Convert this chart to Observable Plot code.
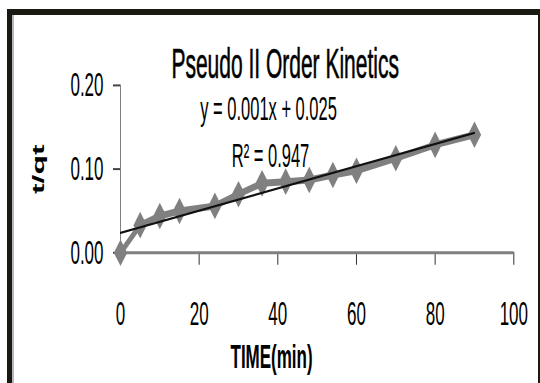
<!DOCTYPE html>
<html>
<head>
<meta charset="utf-8">
<script src="https://cdn.jsdelivr.net/npm/d3@7"></script>
<script src="https://cdn.jsdelivr.net/npm/@observablehq/plot@0.6"></script>
<style>
  html, body { margin: 0; padding: 0; background: #fff; }
  #wrap { position: relative; width: 540px; height: 383px; overflow: hidden; background: #fff; }
  #chart svg { display: block; transform: scaleY(2); transform-origin: 0 0; }
  #frame { position: absolute; left: 7px; top: 9px; right: 0; bottom: -10px;
           border-top: 6px solid #1b1a12; border-left: 5px solid #1b1a12; border-right: 2px solid #1b1a12; }
  #frame::after { content: ""; position: absolute; left: 0; top: 0; bottom: 0; width: 2px; background: #b8b8b8; }
</style>
</head>
<body>
<div id="wrap">
  <div id="chart"></div>
  <div id="frame"></div>
</div>
<script>
// Data
const times = [0, 5, 10, 15, 24, 30, 36, 42, 48, 54, 60, 70, 80, 90];
const tOverQt = [0.000, 0.033, 0.044, 0.050, 0.056, 0.070, 0.083, 0.085, 0.087, 0.093, 0.098, 0.113, 0.129, 0.141];
const xTicks = [0, 20, 40, 60, 80, 100];
const yTicks = [0.00, 0.10, 0.20];
const titleText = ["Pseudo II Order Kinetics"];
const equationText = ["y = 0.001x + 0.025"];
const r2Text = ["R\u00b2 = 0.947"];
const xLabel = ["TIME(min)"];
const yLabel = ["t/qt"];

const data = times.map((t, i) => ({t, v: tOverQt[i]}));

const font = "'Liberation Sans', Arial, sans-serif";
const gray = "#808080";

const chart = Plot.plot({
  width: 540,
  height: 192,
  marginLeft: 120,
  marginRight: 26.7,
  marginTop: 42.2,
  marginBottom: 66.1,
  x: {domain: [0, 100]},
  y: {domain: [0, 0.2]},
  style: {fontFamily: font, background: "transparent", color: "#000", overflow: "visible"},
  marks: [
    Plot.axisY({ticks: yTicks, tickFormat: d => d.toFixed(2), tickSize: 7, tickPadding: 10,
                fontSize: 17, label: null, stroke: "#444", strokeWidth: 1}),
    Plot.axisX({ticks: xTicks, tickFormat: d => String(d), tickSize: 6.5, tickPadding: 17.4,
                fontSize: 17, label: null, stroke: "#333", strokeWidth: 1}),
    Plot.ruleX([0], {stroke: gray, strokeWidth: 1}),
    Plot.ruleY([0], {stroke: gray, strokeWidth: 1.5}),
    Plot.line(data, {x: "t", y: "v", stroke: gray, strokeWidth: 3.5, strokeLinejoin: "round"}),
    Plot.dot(data, {x: "t", y: "v", symbol: "diamond2", r: 6, fill: gray, stroke: "none"}),
    Plot.linearRegressionY(data, {x: "t", y: "v", stroke: "#111", strokeWidth: 1.1, ci: 0}),
    Plot.text(titleText, {text: d => d, frameAnchor: "top", dx: -32, dy: -10.2, lineAnchor: "middle",
                          fontSize: 21, fill: "#000", stroke: "#000", strokeWidth: 0.3}),
    Plot.text(equationText, {text: d => d, frameAnchor: "top", dx: -48.6, dy: 11.8, lineAnchor: "middle",
                             fontSize: 16.5, fill: "#000"}),
    Plot.text(r2Text, {text: d => d, frameAnchor: "top", dx: -46.6, dy: 35.3, lineAnchor: "middle",
                       fontSize: 16.5, fill: "#000"}),
    Plot.text(xLabel, {text: d => d, frameAnchor: "bottom", dx: -45.6, dy: 52, lineAnchor: "middle",
                       fontSize: 17, fontWeight: "bold", fill: "#000"}),
    Plot.text(yLabel, {text: d => d, frameAnchor: "left", dx: -82, dy: 12.5, rotate: -90, lineAnchor: "middle",
                       fontSize: 16, fontWeight: "bold", fill: "#000"})
  ]
});
document.getElementById("chart").appendChild(chart);
</script>
</body>
</html>
